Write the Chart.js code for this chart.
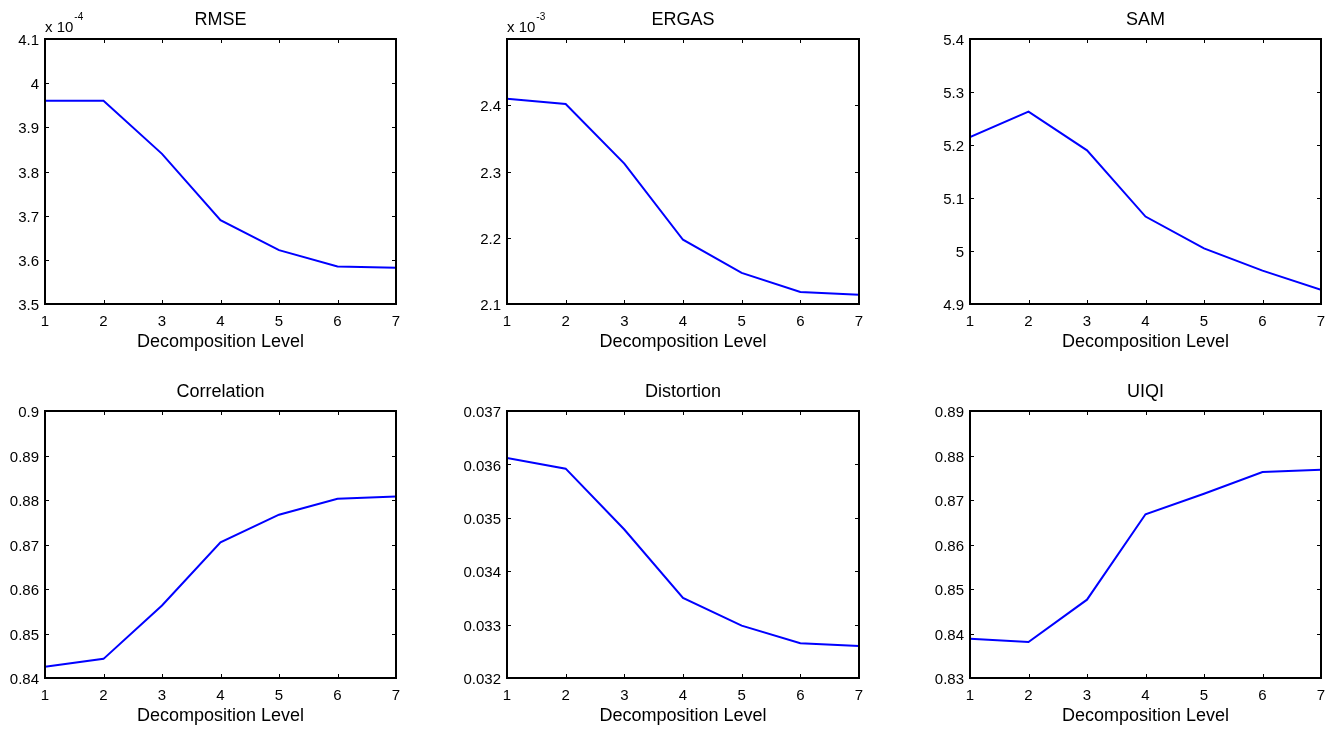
<!DOCTYPE html>
<html>
<head>
<meta charset="utf-8">
<title>Decomposition level metrics</title>
<script src="https://cdn.jsdelivr.net/npm/chart.js@4/dist/chart.umd.min.js"></script>
<style>
  html, body { margin: 0; padding: 0; background: #fff; }
  #page { position: relative; width: 1340px; height: 729px; overflow: hidden; }
  #page canvas { position: absolute; }
</style>
</head>
<body>
<div id="page"></div>
<script>
// x axis: decomposition levels
const levels = [1, 2, 3, 4, 5, 6, 7];

// series values (RMSE shown in units of 1e-4, ERGAS in units of 1e-3, like the figure)
const rmse        = [3.96, 3.96, 3.84, 3.69, 3.622, 3.585, 3.582];
const ergas       = [2.41, 2.402, 2.312, 2.197, 2.147, 2.118, 2.114];
const sam         = [5.215, 5.263, 5.19, 5.065, 5.005, 4.963, 4.927];
const correlation = [0.8425, 0.8443, 0.8563, 0.8705, 0.8767, 0.8803, 0.8808];
const distortion  = [0.03612, 0.03592, 0.03478, 0.0335, 0.03298, 0.03265, 0.0326];
const uiqi        = [0.8388, 0.8381, 0.8476, 0.8668, 0.8714, 0.8763, 0.8768];

// y tick labels
const rmseTicks = [3.5, 3.6, 3.7, 3.8, 3.9, 4, 4.1];
const ergasTicks = [2.1, 2.2, 2.3, 2.4];
const samTicks = [4.9, 5, 5.1, 5.2, 5.3, 5.4];
const corrTicks = [0.84, 0.85, 0.86, 0.87, 0.88, 0.89, 0.9];
const distTicks = [0.032, 0.033, 0.034, 0.035, 0.036, 0.037];
const uiqiTicks = [0.83, 0.84, 0.85, 0.86, 0.87, 0.88, 0.89];

// y limits
const rmseRange = [3.5, 4.1];
const ergasRange = [2.1, 2.5];
const samRange = [4.9, 5.4];
const corrRange = [0.84, 0.9];
const distRange = [0.032, 0.037];
const uiqiRange = [0.83, 0.89];

const FONT = "'Liberation Sans', Arial, Helvetica, sans-serif";
const Y_W = 50, X_H = 60, PAD_T = 39, PAD_R = 15;

// frame + inward ticks + title + exponent, MATLAB style
const matlabAxes = {
  id: 'matlabAxes',
  afterDraw(chart, args, opts) {
    const ctx = chart.ctx;
    const a = chart.chartArea;
    const xs = chart.scales.x, ys = chart.scales.y;
    const tl = 4;
    ctx.save();
    ctx.strokeStyle = '#000';
    ctx.lineWidth = 1;
    ctx.beginPath();
    xs.ticks.forEach(t => {
      const px = Math.round(xs.getPixelForValue(t.value)) + 0.5;
      ctx.moveTo(px, a.bottom); ctx.lineTo(px, a.bottom - tl);
      ctx.moveTo(px, a.top); ctx.lineTo(px, a.top + tl);
    });
    ys.ticks.forEach(t => {
      const py = Math.round(ys.getPixelForValue(t.value)) + 0.5;
      ctx.moveTo(a.left, py); ctx.lineTo(a.left + tl, py);
      ctx.moveTo(a.right, py); ctx.lineTo(a.right - tl, py);
    });
    ctx.stroke();
    ctx.lineWidth = 2;
    ctx.strokeRect(a.left, a.top, a.right - a.left, a.bottom - a.top);

    ctx.fillStyle = '#000';
    ctx.font = '18px ' + FONT;
    ctx.textAlign = 'center';
    ctx.textBaseline = 'middle';
    ctx.fillText(opts.title, (a.left + a.right) / 2, a.top - 19);

    if (opts.exponent) {
      ctx.textAlign = 'left';
      ctx.textBaseline = 'alphabetic';
      ctx.font = '15px ' + FONT;
      const base = 'x 10';
      ctx.fillText(base, a.left, a.top - 7);
      const w = ctx.measureText(base).width;
      ctx.font = '10px ' + FONT;
      ctx.fillText(opts.exponent, a.left + w + 1, a.top - 19);
    }
    ctx.restore();
  }
};

function fmt(v) {
  return String(Number(v.toFixed(6)));
}

function makePanel(box, title, values, yTicks, yRange, exponent) {
  const [L, T, R, B] = box;
  const canvas = document.createElement('canvas');
  const w = (R - L) + Y_W + PAD_R;
  const h = (B - T) + PAD_T + X_H;
  canvas.width = w;
  canvas.height = h;
  canvas.style.left = (L - Y_W) + 'px';
  canvas.style.top = (T - PAD_T) + 'px';
  canvas.style.width = w + 'px';
  canvas.style.height = h + 'px';
  document.getElementById('page').appendChild(canvas);

  new Chart(canvas.getContext('2d'), {
    type: 'line',
    data: {
      datasets: [{
        data: levels.map((x, i) => ({ x: x, y: values[i] })),
        borderColor: '#0000ff',
        borderWidth: 2,
        pointRadius: 0,
        tension: 0,
        fill: false
      }]
    },
    options: {
      responsive: false,
      animation: false,
      devicePixelRatio: 1,
      layout: { padding: { top: PAD_T, right: PAD_R, left: 0, bottom: 0 } },
      plugins: {
        legend: { display: false },
        tooltip: { enabled: false },
        matlabAxes: { title: title, exponent: exponent }
      },
      scales: {
        x: {
          type: 'linear',
          min: levels[0],
          max: levels[levels.length - 1],
          grid: { display: false, drawTicks: false },
          border: { display: false },
          afterBuildTicks: s => { s.ticks = levels.map(v => ({ value: v })); },
          afterFit: s => { s.height = X_H; },
          ticks: {
            color: '#000',
            padding: 9,
            maxRotation: 0,
            font: { family: FONT, size: 15 },
            callback: v => fmt(v)
          },
          title: {
            display: true,
            text: 'Decomposition Level',
            color: '#000',
            font: { family: FONT, size: 18 },
            padding: { top: 0, bottom: 11 }
          }
        },
        y: {
          type: 'linear',
          min: yRange[0],
          max: yRange[1],
          grid: { display: false, drawTicks: false },
          border: { display: false },
          afterBuildTicks: s => { s.ticks = yTicks.map(v => ({ value: v })); },
          afterFit: s => { s.width = Y_W; },
          ticks: {
            color: '#000',
            padding: 6,
            labelOffset: 2,
            font: { family: FONT, size: 15 },
            callback: v => fmt(v)
          }
        }
      }
    },
    plugins: [matlabAxes]
  });
}

makePanel([45, 39, 396, 304], 'RMSE', rmse, rmseTicks, rmseRange, '-4');
makePanel([507, 39, 859, 304], 'ERGAS', ergas, ergasTicks, ergasRange, '-3');
makePanel([970, 39, 1321, 304], 'SAM', sam, samTicks, samRange, null);
makePanel([45, 411, 396, 678], 'Correlation', correlation, corrTicks, corrRange, null);
makePanel([507, 411, 859, 678], 'Distortion', distortion, distTicks, distRange, null);
makePanel([970, 411, 1321, 678], 'UIQI', uiqi, uiqiTicks, uiqiRange, null);
</script>
</body>
</html>
